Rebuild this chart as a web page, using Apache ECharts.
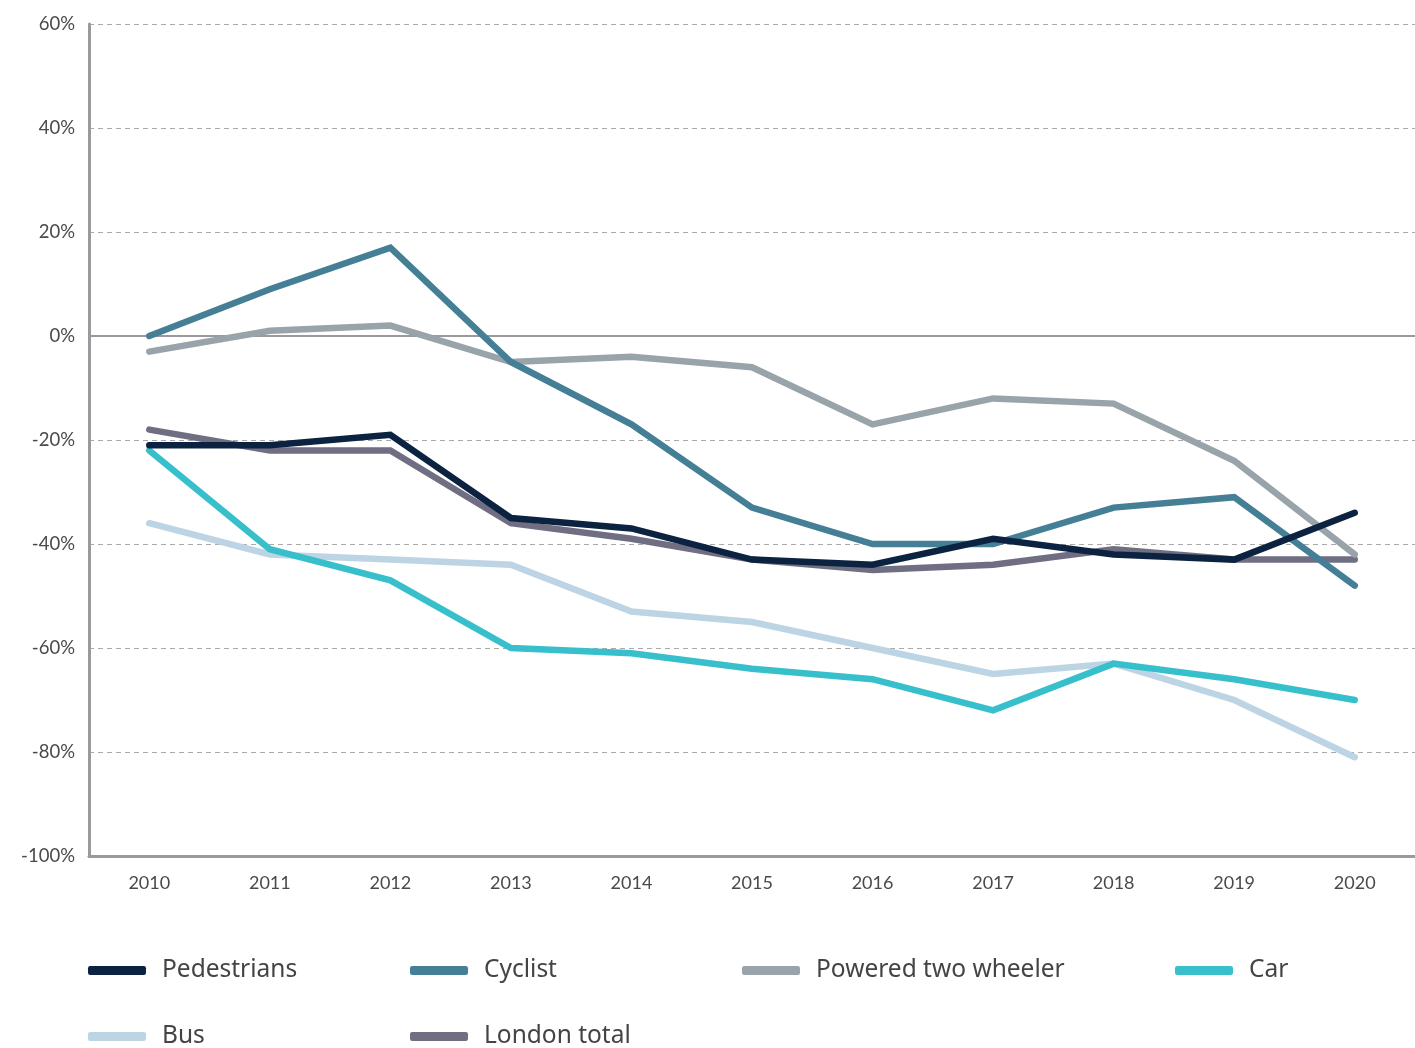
<!DOCTYPE html>
<html>
<head>
<meta charset="utf-8">
<script src="https://cdn.jsdelivr.net/npm/echarts@6/dist/echarts.min.js"></script>
<style>html,body{margin:0;padding:0;background:#fff}#c{width:1415px;height:1048px}</style>
</head>
<body>
<div id="c"></div>
<script>
const years = ['2010','2011','2012','2013','2014','2015','2016','2017','2018','2019','2020'];
const pedestrians = [-21,-21,-19,-35,-37,-43,-44,-39,-42,-43,-34];
const cyclist = [0,9,17,-5,-17,-33,-40,-40,-33,-31,-48];
const poweredTwoWheeler = [-3,1,2,-5,-4,-6,-17,-12,-13,-24,-42];
const car = [-22,-41,-47,-60,-61,-64,-66,-72,-63,-66,-70];
const bus = [-36,-42,-43,-44,-53,-55,-60,-65,-63,-70,-81];
const londonTotal = [-18,-22,-22,-36,-39,-43,-45,-44,-41,-43,-43];
const yTicks = {min:-100, max:60, interval:20};

const FONT = 'Lato';
const LFONT = 'Noto Sans';
const seriesDefs = [
  {name:'Bus', data:bus, color:'#bcd4e4', z:2},
  {name:'Car', data:car, color:'#37c0cc', z:3},
  {name:'London total', data:londonTotal, color:'#6f6e82', z:4},
  {name:'Powered two wheeler', data:poweredTwoWheeler, color:'#98a4a9', z:5},
  {name:'Cyclist', data:cyclist, color:'#457f96', z:6},
  {name:'Pedestrians', data:pedestrians, color:'#0b2240', z:7}
];
const legendPos = {
  'Pedestrians':[88,958], 'Cyclist':[410,958], 'Powered two wheeler':[742,958], 'Car':[1175,958],
  'Bus':[88,1024], 'London total':[410,1024]
};
const colorOf = {};
seriesDefs.forEach(s=>colorOf[s.name]=s.color);

const chart = echarts.init(document.getElementById('c'), null, {renderer:'canvas'});
chart.setOption({
  animation:false,
  backgroundColor:'#fff',
  grid:{left:89, top:24, width:1328, height:832, containLabel:false},
  xAxis:{
    type:'category', data:years, boundaryGap:true,
    axisLine:{onZero:false, lineStyle:{color:'#9a9a9e', width:3}},
    axisTick:{show:false},
    axisLabel:{color:'#4a4a4a', fontSize:18, fontFamily:FONT, margin:18},
    splitLine:{show:false}
  },
  yAxis:{
    type:'value', min:yTicks.min, max:yTicks.max, interval:yTicks.interval,
    axisLine:{show:true, lineStyle:{color:'#9a9a9e', width:3}},
    axisTick:{show:false},
    axisLabel:{color:'#4a4a4a', fontSize:18.5, fontFamily:FONT, margin:14, formatter:'{value}%'},
    splitLine:{show:true, lineStyle:{color:'#aaaaaa', width:1, type:[5,4]}}
  },
  legend: Object.keys(legendPos).map(n=>({
    data:[{name:n, itemStyle:{color:colorOf[n]}}],
    left:legendPos[n][0], top:legendPos[n][1],
    icon:'roundRect', itemWidth:58, itemHeight:9, itemGap:0,
    textStyle:{fontSize:24.5, fontFamily:LFONT, color:'#444', padding:[0,0,0,11]},
    padding:0, selectedMode:false
  })),
  series: seriesDefs.map((s,i)=>{
    const o = {
      name:s.name, type:'line', data:s.data, z:s.z,
      symbol:'none', lineStyle:{color:s.color, width:6.5, cap:'round', join:'miter'},
      itemStyle:{color:s.color}
    };
    if(i===0){
      o.markLine = {silent:true, symbol:'none', label:{show:false}, z:1,
        lineStyle:{color:'#9a9a9e', width:2, type:'solid'},
        data:[{yAxis:0}]};
    }
    return o;
  })
});
</script>
</body>
</html>
